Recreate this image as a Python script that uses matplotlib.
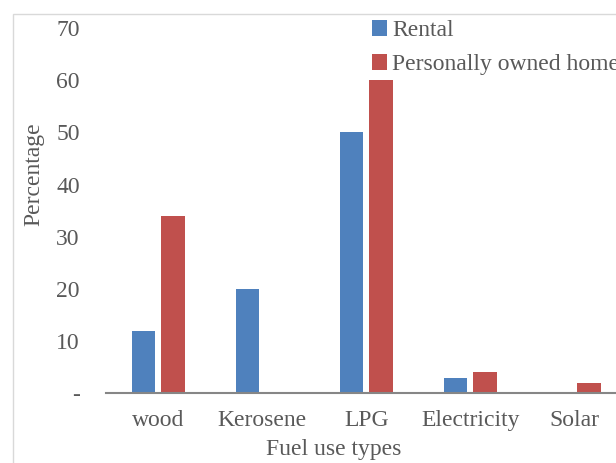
import numpy as np
import matplotlib.pyplot as plt
from matplotlib.patches import Rectangle

# Fuel use by house ownership (percent)
fuel_types = ["wood", "Kerosene", "LPG", "Electricity", "Solar"]
rental = [12, 20, 50, 3, 0]
owned = [34, 0, 60, 4, 2]
y_ticks = [0, 10, 20, 30, 40, 50, 60, 70]
y_tick_labels = ["-", "10", "20", "30", "40", "50", "60", "70"]

plt.rcParams["font.family"] = ["Liberation Serif", "DejaVu Serif"]
text_color = "#595959"
fs = 17

fig = plt.figure(figsize=(6.16, 4.63), dpi=100)

# outer chart border (runs off the right and bottom of the crop)
fig.patches.append(Rectangle((13 / 616, -0.1), 1.2, (463 - 14) / 463 + 0.1,
                             transform=fig.transFigure, fill=False,
                             edgecolor="#D9D9D9", linewidth=1.0))

ax = fig.add_axes([0.1724, 0.1505, 0.8442, 0.7892])

x = np.arange(len(fuel_types))
w = 0.225
ax.bar(x - 0.143, rental, w, color="#4F81BD", label="Rental")
ax.bar(x + 0.143, owned, w, color="#C0504D", label="Personally owned home")

ax.set_xlim(-0.5, len(fuel_types) - 0.5)
ax.set_ylim(0, 70)
ax.set_yticks(y_ticks)
ax.set_yticklabels(y_tick_labels)
ax.set_xticks(x)
ax.set_xticklabels(fuel_types)

for side in ["top", "right", "left"]:
    ax.spines[side].set_visible(False)
ax.spines["bottom"].set_color("#868686")
ax.spines["bottom"].set_linewidth(1.5)

ax.tick_params(axis="y", length=0, pad=19, labelsize=fs, labelcolor=text_color)
ax.tick_params(axis="x", length=0, pad=12, labelsize=fs, labelcolor=text_color)

fig.text(34 / 616, 1 - 174 / 463, "Percentage", rotation=90, ha="center", va="center",
         fontsize=fs, color=text_color)
fig.text(334 / 616, 1 - 450 / 463, "Fuel use types", ha="center", va="center",
         fontsize=fs, color=text_color)

leg = ax.legend(loc="upper left", bbox_to_anchor=(366 / 616, 1 - 14 / 463),
                bbox_transform=fig.transFigure, frameon=False, fontsize=fs,
                handlelength=0.65, handleheight=0.65, handletextpad=0.2,
                labelspacing=0.55, borderaxespad=0, borderpad=0.25)
for t in leg.get_texts():
    t.set_color(text_color)

fig.savefig("out.png", dpi=100)
